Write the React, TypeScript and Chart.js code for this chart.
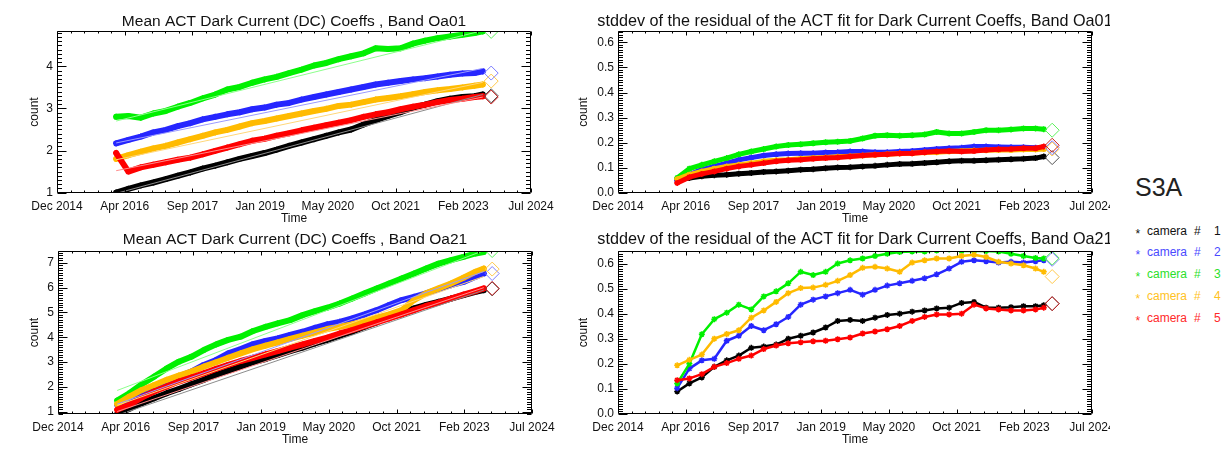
import React, { useEffect, useRef } from "react";
import { Chart, registerables } from "chart.js";

Chart.register(...registerables);

const FONT = '"Liberation Sans", Arial, sans-serif';
const INK = "#111111";

// ---- time axis (days since the axis origin) ----
const X_ORIGIN = "2014-12-05";
const X_TICK_LABELS = ["Dec 2014", "Apr 2016", "Sep 2017", "Jan 2019", "May 2020", "Oct 2021", "Feb 2023", "Jul 2024"];
const X_MAJOR_DAYS = 500;
const X_MINOR_DAYS = 100;
const X_SPAN_DAYS = 3500;

// sampling dates of the camera series
const SAMPLE_MONTHS = [
  "2016-02", "2016-05", "2016-08", "2016-11", "2017-02", "2017-05", "2017-08", "2017-11",
  "2018-02", "2018-05", "2018-08", "2018-11", "2019-02", "2019-05", "2019-08", "2019-11",
  "2020-02", "2020-05", "2020-08", "2020-11", "2021-02", "2021-05", "2021-08", "2021-11",
  "2022-02", "2022-05", "2022-08", "2022-11", "2023-02", "2023-05", "2023-07",
];
// date of the latest (diamond) marker
const LAST_MONTH = "2023-09";

const CAMERA_LABELS = ["1", "2", "3", "4", "5"];
const CAMERA_COLORS = ["#000000", "#2626ff", "#00f000", "#ffbb00", "#ff0000"];
const FIT_COLORS = ["#8c8c8c", "#9a9aff", "#8cff8c", "#ffd77a", "#ff8c8c"];
const LAST_COLORS = ["#505050", "#7c7cff", "#5cf05c", "#ffc84a", "#c81e1e"];
const LEGEND_COLORS = ["#111111", "#4a4aff", "#2ae02a", "#ffc21e", "#ff2a2a"];

// ---- Band Oa01, mean DC coefficients ----
const OA01_MEAN_CAM1 = [1.00, 1.09, 1.17, 1.24, 1.32, 1.40, 1.48, 1.57, 1.64, 1.72, 1.80, 1.87, 1.94, 2.02, 2.11, 2.19, 2.27, 2.35, 2.43, 2.50, 2.62, 2.72, 2.82, 2.91, 3.02, 3.09, 3.17, 3.23, 3.27, 3.29, 3.33];
const OA01_MEAN_CAM2 = [2.17, 2.25, 2.33, 2.43, 2.49, 2.58, 2.65, 2.74, 2.80, 2.86, 2.91, 2.98, 3.02, 3.09, 3.13, 3.21, 3.27, 3.33, 3.39, 3.45, 3.51, 3.57, 3.61, 3.65, 3.69, 3.72, 3.76, 3.80, 3.83, 3.84, 3.88];
const OA01_MEAN_CAM3 = [2.80, 2.82, 2.78, 2.88, 2.94, 3.04, 3.13, 3.24, 3.33, 3.45, 3.51, 3.61, 3.69, 3.75, 3.84, 3.92, 4.02, 4.08, 4.17, 4.24, 4.31, 4.43, 4.41, 4.43, 4.54, 4.61, 4.67, 4.71, 4.75, 4.79, 4.83];
const OA01_MEAN_CAM4 = [1.80, 1.89, 1.97, 2.05, 2.11, 2.19, 2.27, 2.35, 2.43, 2.49, 2.57, 2.65, 2.70, 2.76, 2.82, 2.88, 2.94, 2.99, 3.06, 3.09, 3.15, 3.21, 3.25, 3.29, 3.34, 3.39, 3.43, 3.46, 3.50, 3.54, 3.57];
const OA01_MEAN_CAM5 = [1.94, 1.50, 1.60, 1.66, 1.72, 1.78, 1.83, 1.91, 1.99, 2.07, 2.15, 2.23, 2.28, 2.35, 2.41, 2.48, 2.54, 2.60, 2.66, 2.72, 2.80, 2.86, 2.91, 2.98, 3.04, 3.09, 3.15, 3.20, 3.23, 3.27, 3.29];
const OA01_MEAN_LAST = [3.30, 3.84, 4.83, 3.65, 3.27];
const OA01_FIT_START = [0.98, 2.18, 2.70, 1.78, 1.52];
const OA01_FIT_END = [3.33, 3.95, 4.85, 3.62, 3.27];

// ---- Band Oa01, stddev of fit residual ----
const OA01_SD_CAM1 = [0.053, 0.060, 0.067, 0.071, 0.073, 0.077, 0.080, 0.084, 0.086, 0.089, 0.093, 0.095, 0.099, 0.102, 0.103, 0.106, 0.108, 0.112, 0.115, 0.116, 0.119, 0.122, 0.126, 0.128, 0.128, 0.130, 0.132, 0.134, 0.136, 0.139, 0.145];
const OA01_SD_CAM2 = [0.050, 0.073, 0.093, 0.106, 0.119, 0.132, 0.141, 0.149, 0.154, 0.157, 0.158, 0.158, 0.161, 0.162, 0.165, 0.165, 0.162, 0.162, 0.165, 0.167, 0.171, 0.175, 0.178, 0.180, 0.185, 0.185, 0.183, 0.182, 0.182, 0.180, 0.178];
const OA01_SD_CAM3 = [0.060, 0.097, 0.112, 0.126, 0.139, 0.154, 0.165, 0.175, 0.185, 0.191, 0.194, 0.198, 0.202, 0.204, 0.207, 0.217, 0.228, 0.230, 0.228, 0.230, 0.233, 0.243, 0.237, 0.237, 0.243, 0.250, 0.250, 0.253, 0.257, 0.257, 0.254];
const OA01_SD_CAM4 = [0.055, 0.073, 0.086, 0.097, 0.106, 0.112, 0.119, 0.126, 0.130, 0.132, 0.136, 0.139, 0.141, 0.144, 0.146, 0.149, 0.152, 0.154, 0.157, 0.158, 0.161, 0.162, 0.165, 0.167, 0.169, 0.170, 0.171, 0.171, 0.173, 0.173, 0.175];
const OA01_SD_CAM5 = [0.040, 0.063, 0.076, 0.086, 0.097, 0.106, 0.112, 0.119, 0.126, 0.130, 0.132, 0.136, 0.139, 0.141, 0.145, 0.149, 0.152, 0.154, 0.157, 0.158, 0.162, 0.165, 0.167, 0.165, 0.167, 0.171, 0.174, 0.175, 0.178, 0.178, 0.185];
const OA01_SD_LAST = [0.141, 0.180, 0.250, 0.175, 0.190];

// ---- Band Oa21, mean DC coefficients ----
const OA21_MEAN_CAM1 = [0.89, 1.11, 1.34, 1.54, 1.74, 1.91, 2.10, 2.28, 2.48, 2.64, 2.81, 2.99, 3.12, 3.28, 3.44, 3.58, 3.75, 3.89, 4.06, 4.22, 4.42, 4.60, 4.83, 5.00, 5.16, 5.30, 5.43, 5.56, 5.70, 5.83, 5.90];
const OA21_MEAN_CAM2 = [1.27, 1.47, 1.67, 1.94, 2.21, 2.41, 2.61, 2.88, 3.08, 3.35, 3.52, 3.72, 3.85, 3.95, 4.09, 4.22, 4.38, 4.52, 4.62, 4.76, 4.92, 5.09, 5.30, 5.50, 5.63, 5.77, 5.94, 6.10, 6.23, 6.44, 6.57];
const OA21_MEAN_CAM3 = [1.44, 1.74, 2.10, 2.41, 2.74, 3.01, 3.21, 3.48, 3.71, 3.89, 4.02, 4.25, 4.42, 4.56, 4.69, 4.89, 5.05, 5.19, 5.36, 5.56, 5.77, 5.97, 6.17, 6.37, 6.57, 6.77, 6.97, 7.11, 7.24, 7.38, 7.44];
const OA21_MEAN_CAM4 = [1.30, 1.60, 1.87, 2.07, 2.28, 2.45, 2.61, 2.81, 2.99, 3.17, 3.35, 3.52, 3.66, 3.79, 3.93, 4.06, 4.19, 4.33, 4.42, 4.52, 4.65, 4.79, 4.92, 5.09, 5.50, 5.77, 5.97, 6.17, 6.40, 6.64, 6.77];
const OA21_MEAN_CAM5 = [1.07, 1.27, 1.56, 1.81, 2.01, 2.21, 2.37, 2.54, 2.72, 2.88, 3.04, 3.17, 3.31, 3.44, 3.58, 3.71, 3.85, 3.98, 4.15, 4.29, 4.45, 4.60, 4.76, 4.92, 5.09, 5.26, 5.40, 5.56, 5.72, 5.86, 5.97];
const OA21_MEAN_LAST = [5.95, 6.57, 7.50, 6.75, 5.97];
const OA21_FIT_START = [0.85, 1.30, 1.85, 1.25, 1.00];
const OA21_FIT_END = [5.90, 6.65, 7.50, 6.45, 6.00];

// ---- Band Oa21, stddev of fit residual ----
const OA21_SD_CAM1 = [0.090, 0.122, 0.146, 0.188, 0.214, 0.233, 0.264, 0.269, 0.277, 0.300, 0.312, 0.325, 0.345, 0.371, 0.375, 0.371, 0.384, 0.395, 0.400, 0.408, 0.413, 0.421, 0.424, 0.443, 0.447, 0.424, 0.424, 0.426, 0.430, 0.430, 0.434];
const OA21_SD_CAM2 = [0.103, 0.181, 0.214, 0.220, 0.292, 0.312, 0.351, 0.334, 0.358, 0.387, 0.436, 0.456, 0.469, 0.482, 0.495, 0.476, 0.495, 0.512, 0.521, 0.531, 0.541, 0.557, 0.580, 0.607, 0.613, 0.609, 0.604, 0.607, 0.604, 0.609, 0.613];
const OA21_SD_CAM3 = [0.122, 0.200, 0.318, 0.378, 0.404, 0.436, 0.417, 0.469, 0.489, 0.521, 0.567, 0.554, 0.567, 0.600, 0.613, 0.620, 0.630, 0.639, 0.646, 0.648, 0.648, 0.652, 0.656, 0.650, 0.650, 0.650, 0.648, 0.639, 0.630, 0.622, 0.620];
const OA21_SD_CAM4 = [0.194, 0.216, 0.237, 0.300, 0.319, 0.334, 0.384, 0.413, 0.447, 0.482, 0.502, 0.504, 0.515, 0.531, 0.554, 0.583, 0.587, 0.580, 0.567, 0.604, 0.613, 0.620, 0.620, 0.630, 0.635, 0.626, 0.607, 0.600, 0.593, 0.580, 0.567];
const OA21_SD_CAM5 = [0.135, 0.142, 0.159, 0.188, 0.203, 0.220, 0.233, 0.259, 0.273, 0.282, 0.286, 0.290, 0.292, 0.298, 0.305, 0.321, 0.329, 0.338, 0.351, 0.371, 0.387, 0.397, 0.397, 0.400, 0.436, 0.421, 0.417, 0.413, 0.413, 0.417, 0.424];
const OA21_SD_LAST = [0.440, 0.617, 0.622, 0.548, 0.440];

const DAY_MS = 86400000;
const ORIGIN_MS = Date.parse(`${X_ORIGIN}T00:00:00Z`);
const dayOf = (ym: string) => (Date.parse(`${ym}-15T00:00:00Z`) - ORIGIN_MS) / DAY_MS;

const CANVAS_W = 588;
const CANVAS_H = 225;
const SIDE = 57;

interface PanelDef {
  left: number;
  top: number;
  viewWidth: number;
  title: string;
  titleSize: number;
  series: number[][];
  last: number[];
  fitStart?: number[];
  fitEnd?: number[];
  yMin: number;
  yMax: number;
  yStep: number;
  yMinor: number;
  yDecimals: number;
  titleBox: number;
  titleMid: number;
  axisBox: number;
  timeOffset: number;
  countOffset: number;
  band: number;
}

// IDL-style frame: box on all four sides with inward major/minor ticks
const idlAxes = {
  id: "idlAxes",
  afterDatasetsDraw(chart: any, _args: any, o: any) {
    const { ctx, chartArea } = chart;
    const xs = chart.scales.x;
    const ys = chart.scales.y;
    const L = Math.round(chartArea.left) + 0.5;
    const R = Math.round(chartArea.right) - 0.5;
    const T = Math.round(chartArea.top) + 0.5;
    const B = Math.round(chartArea.bottom) - 0.5;
    ctx.save();
    ctx.strokeStyle = "#000";
    ctx.lineWidth = 1;
    ctx.beginPath();
    ctx.rect(L, T, R - L, B - T);
    for (let v = xs.min; v <= xs.max + 1e-6; v += o.xMinor) {
      const px = Math.round(xs.getPixelForValue(v)) + 0.5;
      const q = v / o.xMajor;
      const len = Math.abs(q - Math.round(q)) < 1e-6 ? o.xMajorLen : o.xMinorLen;
      ctx.moveTo(px, B);
      ctx.lineTo(px, B - len);
      ctx.moveTo(px, T);
      ctx.lineTo(px, T + len);
    }
    const n0 = Math.ceil(ys.min / o.yMinor - 1e-6);
    const n1 = Math.floor(ys.max / o.yMinor + 1e-6);
    for (let n = n0; n <= n1; n++) {
      const v = n * o.yMinor;
      const py = Math.round(ys.getPixelForValue(v)) + 0.5;
      const q = v / o.yMajor;
      const len = Math.abs(q - Math.round(q)) < 1e-6 ? o.yMajorLen : o.yMinorLen;
      ctx.moveTo(L, py);
      ctx.lineTo(L + len, py);
      ctx.moveTo(R, py);
      ctx.lineTo(R - len, py);
    }
    ctx.stroke();
    ctx.restore();
  },
};

function makeConfig(p: PanelDef): any {
  const xs = SAMPLE_MONTHS.map(dayOf);
  const datasets: any[] = [];
  p.series.forEach((vals, i) => {
    datasets.push({
      label: `camera # ${CAMERA_LABELS[i]}`,
      data: vals.map((v, j) => ({ x: xs[j], y: v })),
      showLine: true,
      borderColor: CAMERA_COLORS[i],
      backgroundColor: CAMERA_COLORS[i],
      borderWidth: p.band,
      borderJoinStyle: "round",
      borderCapStyle: "round",
      pointStyle: "star",
      pointRadius: 3,
      pointBorderWidth: 1.5,
      pointBorderColor: CAMERA_COLORS[i],
      order: 30 - i,
    });
  });
  if (p.fitStart && p.fitEnd) {
    p.fitStart.forEach((v, i) => {
      datasets.push({
        label: `fit ${CAMERA_LABELS[i]}`,
        data: [
          { x: xs[0], y: v },
          { x: xs[xs.length - 1], y: p.fitEnd![i] },
        ],
        showLine: true,
        borderColor: FIT_COLORS[i],
        borderWidth: 1,
        pointRadius: 0,
        order: 15 - i,
      });
    });
  }
  p.last.forEach((v, i) => {
    datasets.push({
      label: `latest ${CAMERA_LABELS[i]}`,
      data: [{ x: dayOf(LAST_MONTH), y: v }],
      showLine: false,
      pointStyle: "rectRot",
      pointRadius: 7,
      pointBorderWidth: 1,
      pointBorderColor: LAST_COLORS[i],
      pointBackgroundColor: "rgba(0,0,0,0)",
      order: 5 - i,
    });
  });

  const lineH = p.titleSize * 1.2;
  const titlePadTop = p.titleMid - lineH / 2;
  const tickFont = { family: FONT, size: 12 };
  const hidden = { display: false, drawTicks: false };

  return {
    type: "scatter",
    data: { datasets },
    plugins: [idlAxes],
    options: {
      responsive: false,
      maintainAspectRatio: false,
      animation: false,
      devicePixelRatio: 1,
      events: [],
      layout: { padding: 0 },
      scales: {
        x: {
          type: "linear",
          min: 0,
          max: X_SPAN_DAYS,
          grid: hidden,
          border: { display: false },
          ticks: {
            stepSize: X_MAJOR_DAYS,
            autoSkip: false,
            maxRotation: 0,
            minRotation: 0,
            padding: 6,
            color: INK,
            font: tickFont,
            callback: (v: number) => X_TICK_LABELS[Math.round(v / X_MAJOR_DAYS)] ?? "",
          },
          title: {
            display: true,
            text: "Time",
            color: INK,
            font: { family: FONT, size: 12, lineHeight: 1 },
            padding: { top: 0, bottom: p.timeOffset },
          },
          afterFit: (s: any) => {
            s.height = p.axisBox;
            s.paddingLeft = 0;
            s.paddingRight = 0;
          },
        },
        y: {
          type: "linear",
          position: "left",
          min: p.yMin,
          max: p.yMax,
          grid: hidden,
          border: { display: false },
          ticks: {
            stepSize: p.yStep,
            includeBounds: false,
            padding: 4,
            color: INK,
            font: tickFont,
            callback: (v: number) => Number(v).toFixed(p.yDecimals),
          },
          title: {
            display: true,
            text: "count",
            color: INK,
            font: { family: FONT, size: 12, lineHeight: 1 },
            padding: { top: p.countOffset, bottom: 0 },
          },
          afterFit: (s: any) => {
            s.width = SIDE;
            s.paddingTop = 0;
            s.paddingBottom = 0;
          },
        },
        yr: {
          type: "linear",
          position: "right",
          min: p.yMin,
          max: p.yMax,
          grid: hidden,
          border: { display: false },
          ticks: { display: false },
          afterFit: (s: any) => {
            s.width = SIDE;
            s.paddingTop = 0;
            s.paddingBottom = 0;
          },
        },
      },
      plugins: {
        legend: { display: false },
        tooltip: { enabled: false },
        title: {
          display: true,
          text: p.title,
          color: INK,
          fullSize: true,
          font: { family: FONT, size: p.titleSize, weight: "normal", lineHeight: 1.2 },
          padding: { top: titlePadTop, bottom: p.titleBox - titlePadTop - lineH },
        },
        idlAxes: {
          xMajor: X_MAJOR_DAYS,
          xMinor: X_MINOR_DAYS,
          xMajorLen: 4,
          xMinorLen: 2,
          yMajor: p.yStep,
          yMinor: p.yMinor,
          yMajorLen: 9,
          yMinorLen: 4.5,
        },
      },
    },
  };
}

const PANELS: PanelDef[] = [
  {
    left: 0, top: 0, viewWidth: CANVAS_W,
    title: "Mean ACT Dark Current (DC) Coeffs , Band Oa01", titleSize: 15.5,
    series: [OA01_MEAN_CAM1, OA01_MEAN_CAM2, OA01_MEAN_CAM3, OA01_MEAN_CAM4, OA01_MEAN_CAM5],
    last: OA01_MEAN_LAST, fitStart: OA01_FIT_START, fitEnd: OA01_FIT_END,
    yMin: 0.99, yMax: 4.84, yStep: 1, yMinor: 0.1, yDecimals: 0,
    titleBox: 31, titleMid: 21.5, axisBox: 32, timeOffset: 0, countOffset: 29, band: 6,
  },
  {
    left: 561, top: 0, viewWidth: 549,
    title: "stddev of the residual of the ACT fit for Dark Current Coeffs, Band Oa01", titleSize: 16.2,
    series: [OA01_SD_CAM1, OA01_SD_CAM2, OA01_SD_CAM3, OA01_SD_CAM4, OA01_SD_CAM5],
    last: OA01_SD_LAST,
    yMin: 0, yMax: 0.645, yStep: 0.1, yMinor: 0.01, yDecimals: 1,
    titleBox: 31, titleMid: 21.5, axisBox: 32, timeOffset: 0, countOffset: 17, band: 5,
  },
  {
    left: 1, top: 225, viewWidth: CANVAS_W,
    title: "Mean ACT Dark Current (DC) Coeffs , Band Oa21", titleSize: 15.5,
    series: [OA21_MEAN_CAM1, OA21_MEAN_CAM2, OA21_MEAN_CAM3, OA21_MEAN_CAM4, OA21_MEAN_CAM5],
    last: OA21_MEAN_LAST, fitStart: OA21_FIT_START, fitEnd: OA21_FIT_END,
    yMin: 0.9, yMax: 7.48, yStep: 1, yMinor: 0.1, yDecimals: 0,
    titleBox: 26, titleMid: 15, axisBox: 36, timeOffset: 4, countOffset: 28, band: 6,
  },
  {
    left: 561, top: 225, viewWidth: 549,
    title: "stddev of the residual of the ACT fit for Dark Current Coeffs, Band Oa21", titleSize: 16.2,
    series: [OA21_SD_CAM1, OA21_SD_CAM2, OA21_SD_CAM3, OA21_SD_CAM4, OA21_SD_CAM5],
    last: OA21_SD_LAST,
    yMin: 0, yMax: 0.65, yStep: 0.1, yMinor: 0.01, yDecimals: 1,
    titleBox: 26, titleMid: 15, axisBox: 36, timeOffset: 4, countOffset: 17, band: 2.5,
  },
];

function Panel({ def }: { def: PanelDef }) {
  const ref = useRef<HTMLCanvasElement>(null);
  useEffect(() => {
    if (!ref.current) return;
    const chart = new Chart(ref.current, makeConfig(def));
    return () => chart.destroy();
  }, [def]);
  return (
    <div
      style={{
        position: "absolute",
        left: def.left,
        top: def.top,
        width: def.viewWidth,
        height: CANVAS_H,
        overflow: "hidden",
      }}
    >
      <canvas
        ref={ref}
        width={CANVAS_W}
        height={CANVAS_H}
        style={{ display: "block", width: CANVAS_W, height: CANVAS_H }}
      />
    </div>
  );
}

function CameraKey() {
  const rowTop = 224.5;
  const rowStep = 21.9;
  return (
    <>
      <div
        style={{
          position: "absolute",
          left: 1135,
          top: 174.5,
          font: `25px ${FONT}`,
          lineHeight: "25px",
          color: "#222",
          whiteSpace: "pre",
        }}
      >
        S3A
      </div>
      {CAMERA_LABELS.map((lab, i) => {
        const top = rowTop + i * rowStep;
        const base = {
          position: "absolute" as const,
          font: `12px ${FONT}`,
          lineHeight: "12px",
          color: LEGEND_COLORS[i],
          whiteSpace: "pre" as const,
        };
        return (
          <React.Fragment key={lab}>
            <div style={{ ...base, left: 1135.5, top: top + 3 }}>*</div>
            <div style={{ ...base, left: 1147, top }}>camera</div>
            <div style={{ ...base, left: 1194, top }}>#</div>
            <div style={{ ...base, left: 1214, top }}>{lab}</div>
          </React.Fragment>
        );
      })}
    </>
  );
}

export default function App() {
  return (
    <div
      style={{
        position: "absolute",
        left: 0,
        top: 0,
        width: 1223,
        height: 450,
        background: "#ffffff",
        overflow: "hidden",
      }}
    >
      {PANELS.map((p) => (
        <Panel key={p.title} def={p} />
      ))}
      <CameraKey />
    </div>
  );
}
